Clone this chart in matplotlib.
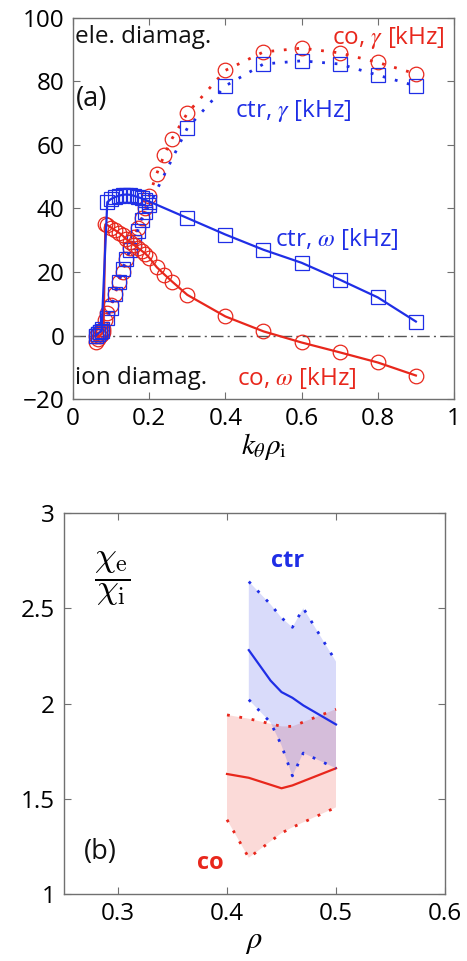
import matplotlib

matplotlib.use("Agg")
import matplotlib.pyplot as plt

plt.rcParams["font.family"] = ["Open Sans", "DejaVu Sans"]
plt.rcParams["mathtext.fontset"] = "stix"

RED = "#e8271c"
BLUE = "#1f2ee6"

# ---- (a) 线性色散：k_theta rho_i vs gamma / omega ----
ctr_k = [0.06, 0.065, 0.07, 0.075, 0.09, 0.1, 0.11, 0.12, 0.13, 0.14, 0.15, 0.16,
         0.17, 0.18, 0.19, 0.2, 0.3, 0.4, 0.5, 0.6, 0.7, 0.8, 0.9]
ctr_gamma = [0, 0.5, 1, 2, 5.5, 8.7, 13, 17, 21, 24, 27, 29.5,
             33, 36.5, 39, 41, 65.3, 78.6, 85.5, 86.5, 85.5, 82, 78.6]
ctr_omega = [0, 0.5, 1, 1.5, 42, 43, 43.6, 44, 44.3, 44.4, 44.3, 44,
             43.6, 43.2, 42.7, 42.2, 37, 31.8, 27, 22.9, 17.6, 12, 4.4]

co_k = [0.06, 0.065, 0.07, 0.075, 0.08, 0.085, 0.09, 0.1, 0.11, 0.12, 0.13, 0.14,
        0.15, 0.16, 0.17, 0.18, 0.19, 0.2, 0.22, 0.24, 0.26, 0.3, 0.4, 0.5, 0.6,
        0.7, 0.8, 0.9]
co_gamma = [0, 0.5, 1, 1.5, 2, 5, 7, 9.5, 13, 17, 20, 24,
            27.5, 31, 34, 37, 40, 44, 51, 57, 62, 70, 83.5, 89.3, 90.5,
            89, 86, 82.4]
co_omega = [-2, -1, 0, 0.5, 1, 35, 34.8, 34, 33.2, 32.4, 31.5, 30.3,
            29.5, 28.5, 27.6, 26.7, 25.8, 24.5, 21.5, 19.2, 17, 12.8, 6, 1.3, -2.2,
            -5.3, -8.5, -12.6]

# ---- (b) chi_e / chi_i 的范围 ----
ctr_rho = [0.42, 0.44, 0.45, 0.46, 0.47, 0.5]
ctr_mid = [2.28, 2.12, 2.06, 2.03, 1.99, 1.89]
ctr_hi = [2.64, 2.52, 2.45, 2.40, 2.50, 2.22]
ctr_lo = [2.02, 1.90, 1.78, 1.62, 1.74, 1.66]

co_rho = [0.4, 0.42, 0.45, 0.46, 0.5]
co_mid = [1.63, 1.61, 1.555, 1.57, 1.66]
co_hi = [1.94, 1.92, 1.88, 1.88, 1.97]
co_lo = [1.39, 1.19, 1.32, 1.35, 1.455]


def style_box(ax):
    for s in ax.spines.values():
        s.set_color("#707070")
        s.set_linewidth(1.0)
    ax.tick_params(direction="in", top=True, right=True, length=5,
                   width=0.8, color="#707070", labelsize=17.5, pad=6)


fig = plt.figure(figsize=(4.67, 9.61), dpi=100)

# ---------------- 上图 ----------------
ax = fig.add_axes([0.1563, 0.5848, 0.8158, 0.3965])
mk = dict(markersize=10.5, markerfacecolor="none", markeredgewidth=0.9)
dot = (0, (1, 3.5))
ax.plot(co_k, co_gamma, color=RED, ls=dot, lw=2.0)
ax.plot(co_k, co_gamma, ls="none", marker="o", markeredgecolor=RED, **mk)
ax.plot(ctr_k, ctr_gamma, color=BLUE, ls=dot, lw=2.0)
ax.plot(ctr_k, ctr_gamma, ls="none", marker="s", markeredgecolor=BLUE, **mk)
ax.plot(co_k, co_omega, color=RED, lw=1.6)
ax.plot(co_k, co_omega, ls="none", marker="o", markeredgecolor=RED, **mk)
ax.plot(ctr_k, ctr_omega, color=BLUE, lw=1.6)
ax.plot(ctr_k, ctr_omega, ls="none", marker="s", markeredgecolor=BLUE, **mk)
ax.axhline(0, color="#555555", lw=1.0, ls=(0, (9, 3, 1.5, 3)), zorder=0)

ax.set_xlim(0, 1)
ax.set_ylim(-20, 100)
ax.set_xticks([0, 0.2, 0.4, 0.6, 0.8, 1])
ax.set_xticklabels(["0", "0.2", "0.4", "0.6", "0.8", "1"])
ax.set_yticks([-20, 0, 20, 40, 60, 80, 100])
style_box(ax)
ax.set_xlabel(r"$k_{\theta}\rho_{\mathrm{i}}$", fontsize=21, labelpad=0)

tk = dict(fontsize=17.5, va="center")
ax.text(0.005, 94.0, "ele. diamag.", color="#111111", ha="left", **tk)
ax.text(0.008, 74.5, "(a)", color="#111111", ha="left", fontsize=19.5, va="center")
ax.text(0.975, 94.0, r"co, $\gamma$ [kHz]", color=RED, ha="right", **tk)
ax.text(0.425, 71.0, r"ctr, $\gamma$ [kHz]", color=BLUE, ha="left", **tk)
ax.text(0.53, 30.5, r"ctr, $\omega$ [kHz]", color=BLUE, ha="left", **tk)
ax.text(0.005, -13.5, "ion diamag.", color="#111111", ha="left", **tk)
ax.text(0.43, -13.5, r"co, $\omega$ [kHz]", color=RED, ha="left", **tk)

# ---------------- 下图 ----------------
bx = fig.add_axes([0.136, 0.0697, 0.8169, 0.3965])
bx.fill(co_rho + co_rho[::-1], co_hi + co_lo[::-1], color=RED, alpha=0.17, lw=0)
bx.fill(ctr_rho + ctr_rho[::-1], ctr_hi + ctr_lo[::-1], color=BLUE, alpha=0.17, lw=0)
bx.plot(co_rho, co_hi, color=RED, ls=dot, lw=2.0)
bx.plot(co_rho, co_lo, color=RED, ls=dot, lw=2.0)
bx.plot(co_rho, co_mid, color=RED, lw=1.6)
bx.plot(ctr_rho, ctr_hi, color=BLUE, ls=dot, lw=2.0)
bx.plot(ctr_rho, ctr_lo, color=BLUE, ls=dot, lw=2.0)
bx.plot(ctr_rho, ctr_mid, color=BLUE, lw=1.6)

bx.set_xlim(0.25, 0.6)
bx.set_ylim(1, 3)
bx.set_xticks([0.3, 0.4, 0.5, 0.6])
bx.set_yticks([1, 1.5, 2, 2.5, 3])
bx.set_yticklabels(["1", "1.5", "2", "2.5", "3"])
style_box(bx)
bx.set_xlabel(r"$\rho$", fontsize=22, labelpad=0)

bx.text(0.295, 2.655, r"$\dfrac{\chi_{\mathrm{e}}}{\chi_{\mathrm{i}}}$",
        fontsize=25, ha="center", va="center", math_fontfamily="cm")
bx.text(0.456, 2.75, "ctr", color=BLUE, fontsize=17, fontweight="bold",
        ha="center", va="center")
bx.text(0.385, 1.165, "co", color=RED, fontsize=17, fontweight="bold",
        ha="center", va="center")
bx.text(0.284, 1.22, "(b)", color="#111111", fontsize=19.5, ha="center", va="center")

fig.savefig("out.png", dpi=100)
